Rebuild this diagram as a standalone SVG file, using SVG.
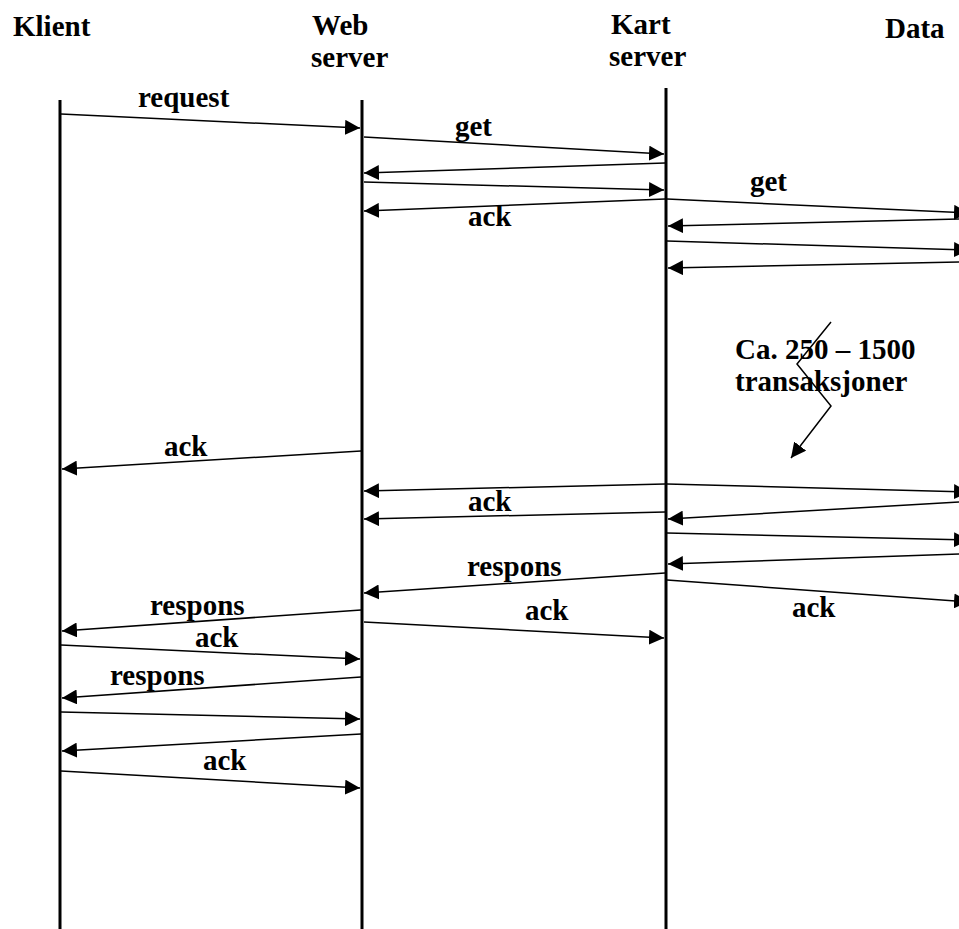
<svg xmlns="http://www.w3.org/2000/svg" width="959" height="929" viewBox="0 0 959 929">
<style>
text{font-family:"Liberation Serif","Times New Roman",serif;font-weight:bold;font-size:29px;fill:#000}
.life{stroke:#000;stroke-width:3;fill:none}
.msg{stroke:#000;stroke-width:1.5;fill:none;marker-end:url(#ah)}
</style>
<defs>
<marker id="ah" markerUnits="userSpaceOnUse" markerWidth="15" markerHeight="15" refX="15" refY="7.5" orient="auto">
<path d="M0,0 L15,7.5 L0,15 Z" fill="#000"/>
</marker>
</defs>
<rect width="959" height="929" fill="#fff"/>
<g id="klient">
<text x="13" y="36">Klient</text>
<line class="life" x1="60" y1="100" x2="60" y2="929"/>
</g>
<g id="webserver">
<text x="312" y="35">Web</text>
<text x="311" y="67">server</text>
<line class="life" x1="362" y1="100" x2="362" y2="929"/>
</g>
<g id="kartserver">
<text x="611" y="34">Kart</text>
<text x="609" y="66">server</text>
<line class="life" x1="666" y1="88" x2="666" y2="929"/>
</g>
<g id="data">
<text x="885" y="38">Data</text>
</g>
<g id="connectors">
<line class="msg" x1="61" y1="114" x2="360" y2="128"/>
<line class="msg" x1="364" y1="137" x2="664" y2="154"/>
<line class="msg" x1="665" y1="163" x2="364" y2="173"/>
<line class="msg" x1="364" y1="182" x2="664" y2="190"/>
<line class="msg" x1="665" y1="199" x2="364" y2="211"/>
<line class="msg" x1="667" y1="199" x2="969" y2="213"/>
<line class="msg" x1="959" y1="219" x2="668" y2="226"/>
<line class="msg" x1="667" y1="241" x2="969" y2="250"/>
<line class="msg" x1="959" y1="262" x2="668" y2="268"/>
<polyline class="msg" points="831,322 797,364 831,406 791,458"/>
<line class="msg" x1="361" y1="451" x2="62" y2="469"/>
<line class="msg" x1="665" y1="484" x2="364" y2="491"/>
<line class="msg" x1="667" y1="484" x2="969" y2="492"/>
<line class="msg" x1="959" y1="502" x2="668" y2="519"/>
<line class="msg" x1="665" y1="512" x2="364" y2="519"/>
<line class="msg" x1="667" y1="533" x2="969" y2="540"/>
<line class="msg" x1="959" y1="554" x2="668" y2="564"/>
<line class="msg" x1="665" y1="573" x2="364" y2="593"/>
<line class="msg" x1="667" y1="580" x2="969" y2="602"/>
<line class="msg" x1="361" y1="610" x2="62" y2="631"/>
<line class="msg" x1="364" y1="622" x2="664" y2="638"/>
<line class="msg" x1="61" y1="645" x2="360" y2="659"/>
<line class="msg" x1="361" y1="677" x2="62" y2="698"/>
<line class="msg" x1="61" y1="712" x2="360" y2="719"/>
<line class="msg" x1="361" y1="734" x2="62" y2="751"/>
<line class="msg" x1="61" y1="771" x2="360" y2="788"/>
</g>
<g id="labels">
<text x="138" y="107">request</text>
<text x="455" y="136">get</text>
<text x="468" y="226">ack</text>
<text x="750" y="191">get</text>
<text x="735" y="359">Ca. 250 – 1500</text>
<text x="735" y="391">transaksjoner</text>
<text x="164" y="456">ack</text>
<text x="468" y="511">ack</text>
<text x="467" y="576">respons</text>
<text x="150" y="615">respons</text>
<text x="525" y="620">ack</text>
<text x="792" y="617">ack</text>
<text x="195" y="647">ack</text>
<text x="110" y="685">respons</text>
<text x="203" y="770">ack</text>
</g>
</svg>
